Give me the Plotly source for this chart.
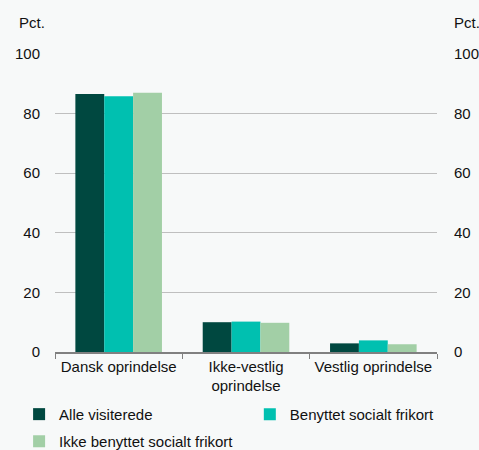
import plotly.graph_objects as go

# Andel af personer fordelt på oprindelse (pct.)
categories = ["Dansk oprindelse", "Ikke-vestlig<br>oprindelse", "Vestlig oprindelse"]
alle_visiterede = [86.6, 10.0, 2.9]
benyttet_frikort = [85.8, 10.2, 3.9]
ikke_benyttet_frikort = [87.0, 9.8, 2.6]

series = [
    ("Alle visiterede", alle_visiterede, "#004840", "legend"),
    ("Benyttet socialt frikort", benyttet_frikort, "#00c0b0", "legend2"),
    ("Ikke benyttet socialt frikort", ikke_benyttet_frikort, "#a2cfa6", "legend3"),
]

tick_vals = [0, 20, 40, 60, 80, 100]
bg = "#f7f9f9"
font = dict(family="Liberation Sans, Arial, sans-serif", size=15, color="#111111")

fig = go.Figure()
for name, vals, color, leg in series:
    fig.add_trace(go.Bar(x=categories, y=vals, name=name, legend=leg,
                         marker=dict(color=color, line=dict(width=0))))

# invisible trace to activate the right-hand axis
fig.add_trace(go.Scatter(x=categories, y=[None] * 3, yaxis="y2", showlegend=False, hoverinfo="skip"))

legend_style = dict(orientation="h", xanchor="left", yanchor="top", font=font,
                    bgcolor="rgba(0,0,0,0)", borderwidth=0)

fig.update_layout(
    width=479, height=450,
    paper_bgcolor=bg, plot_bgcolor=bg,
    font=font,
    margin=dict(l=55, r=42, t=54, b=98, autoexpand=False),
    barmode="group", bargap=0.32, bargroupgap=0,
    xaxis=dict(
        showgrid=False, showline=True, linecolor="#808080", linewidth=1.5,
        ticks="outside", tickson="boundaries", ticklen=5, tickcolor="#808080",
        tickfont=font, tickangle=0, automargin=False,
    ),
    yaxis=dict(
        range=[0, 100], tickvals=tick_vals, showgrid=True, gridcolor="#bfbfbf", gridwidth=1,
        zeroline=False, ticks="outside", ticklen=11, tickcolor="rgba(0,0,0,0)",
        tickfont=font, automargin=False,
    ),
    yaxis2=dict(
        range=[0, 100], tickvals=tick_vals, overlaying="y", side="right", showgrid=False,
        zeroline=False, ticks="outside", ticklen=13, tickcolor="rgba(0,0,0,0)",
        tickfont=font, automargin=False,
    ),
    legend=dict(x=-0.094, y=-0.154, **legend_style),
    legend2=dict(x=0.51, y=-0.154, **legend_style),
    legend3=dict(x=-0.094, y=-0.245, **legend_style),
    annotations=[
        dict(text="Pct.", xref="paper", yref="paper", x=-0.1, y=1.0, yshift=32,
             xanchor="left", yanchor="middle", showarrow=False, font=font),
        dict(text="Pct.", xref="paper", yref="paper", x=1.0, xshift=15, y=1.0, yshift=32,
             xanchor="left", yanchor="middle", showarrow=False, font=font),
    ],
)

fig.write_html("out.html")
